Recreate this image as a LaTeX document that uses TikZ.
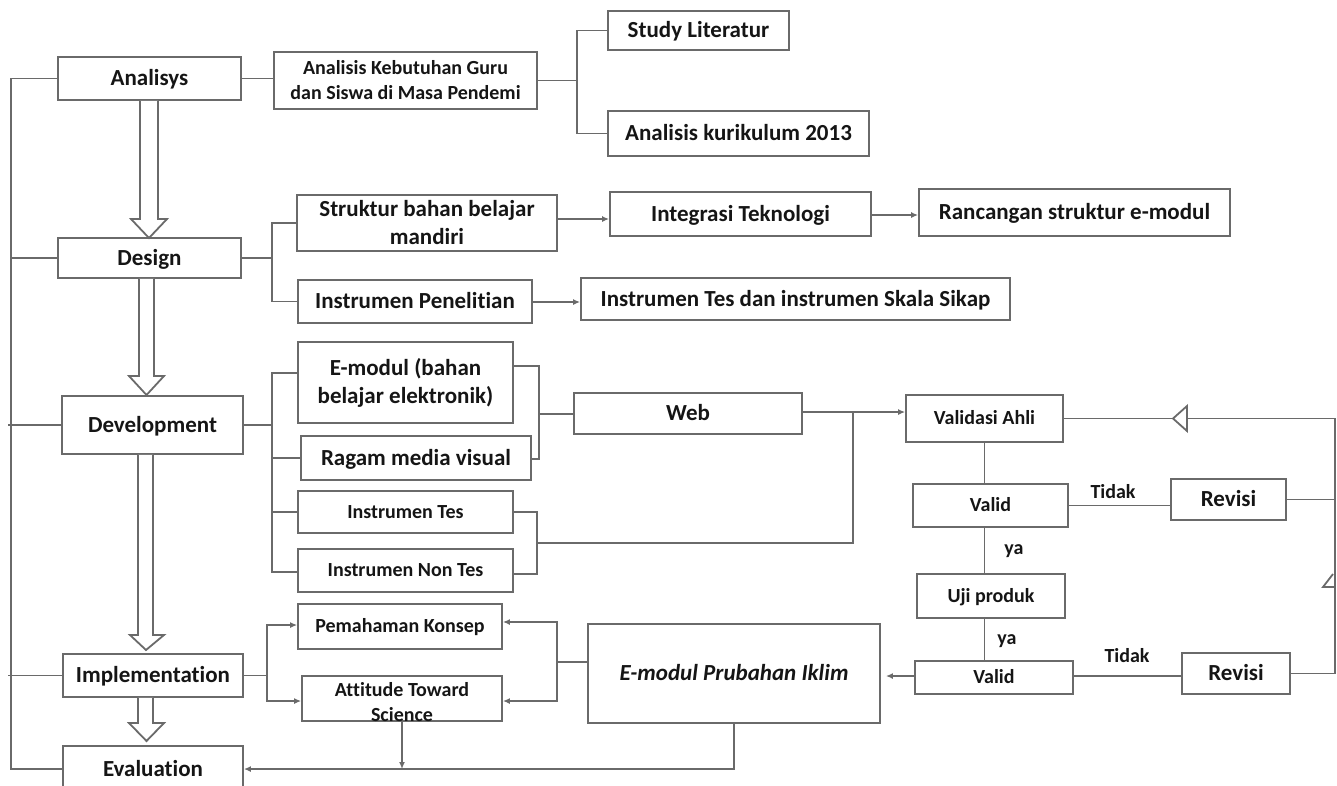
\documentclass[tikz,border=0pt]{standalone}
\usepackage{fontspec}
\setmainfont{Carlito}[Ligatures=NoCommon]
\usetikzlibrary{arrows.meta}
\definecolor{ln}{HTML}{6A6A6A}
\definecolor{txt}{HTML}{151515}
\begin{document}
\begin{tikzpicture}[x=1pt,y=-1pt,
  box/.style={draw=ln, line width=1.8pt, inner sep=0pt, align=center, font=\bfseries\fontsize{23}{28}\selectfont, text=txt, text height=14.8pt, text depth=0pt},
  sbox/.style={box, font=\bfseries\fontsize{20}{25}\selectfont, text height=12.9pt},
  ml/.style={text height=, text depth=},
  conn/.style={draw=ln, line width=1.8pt},
  arr/.style={conn, -{Latex[length=7pt,width=6pt]}},
  darr/.style={conn, {Latex[length=7pt,width=6pt]}-{Latex[length=7pt,width=6pt]}},
  lbl/.style={font=\bfseries\fontsize{20}{24}\selectfont, text=txt, inner sep=0pt},
  blk/.style={draw=ln, line width=1.8pt, fill=white, line join=miter}
]
\useasboundingbox (0,0) rectangle (1337,785);
\clip (0,0) rectangle (1337,785);

% left column
\node[box, minimum width=183pt, minimum height=43pt] (ana) at (149.5,78.5) {Analisys};
\node[box, minimum width=183pt, minimum height=40pt] (des) at (149.5,258) {Design};
\node[box, minimum width=181pt, minimum height=58pt] (dev) at (152.5,425) {Development};
\node[box, minimum width=180pt, minimum height=43pt] (imp) at (153,675.5) {Implementation};
\node[box, minimum width=180pt, minimum height=46pt] (eva) at (153,769) {Evaluation};

% analysis branch
\node[sbox, ml, minimum width=263pt, minimum height=57pt] (akg) at (405.5,80.5) {Analisis Kebutuhan Guru\\dan Siswa di Masa Pendemi};
\node[box, minimum width=181pt, minimum height=39pt] (sl) at (698.5,30.5) {Study Literatur};
\node[box, minimum width=261pt, minimum height=45pt] (ak) at (738.5,133.5) {Analisis kurikulum 2013};

% design branch
\node[box, ml, minimum width=260pt, minimum height=56pt] (sbb) at (427,223) {Struktur bahan belajar\\mandiri};
\node[box, minimum width=234pt, minimum height=43pt] (ip) at (415,301.5) {Instrumen Penelitian};
\node[box, minimum width=261pt, minimum height=44pt] (it) at (740.5,214) {Integrasi Teknologi};
\node[box, minimum width=311pt, minimum height=47pt] (rse) at (1074.5,212.5) {Rancangan struktur e-modul};
\node[box, minimum width=429pt, minimum height=42pt] (itd) at (795.5,299) {Instrumen Tes dan instrumen Skala Sikap};

% development branch
\node[box, ml, minimum width=215pt, minimum height=81pt] (em) at (405.5,382.5) {E-modul (bahan\\belajar elektronik)};
\node[box, minimum width=230pt, minimum height=44pt] (rmv) at (416,458) {Ragam media visual};
\node[sbox, minimum width=215pt, minimum height=42pt] (ites) at (405.5,512) {Instrumen Tes};
\node[sbox, minimum width=215pt, minimum height=43pt] (intes) at (405.5,570.5) {Instrumen Non Tes};
\node[box, minimum width=228pt, minimum height=41pt] (web) at (688,413.5) {Web};

% implementation branch
\node[sbox, minimum width=204pt, minimum height=45pt] (pk) at (400,626.5) {Pemahaman Konsep};
\node[sbox, minimum width=200pt, minimum height=45pt] (ats) at (402,698.5) {};
\node[lbl, align=center, font=\bfseries\fontsize{20}{25}\selectfont] (atst) at (402,702) {Attitude Toward\\Science};
\node[box, minimum width=292pt, minimum height=99pt, font=\bfseries\itshape\fontsize{23}{28}\selectfont] (epi) at (734,673.5) {E-modul Prubahan Iklim};

% validation chain
\node[sbox, minimum width=157pt, minimum height=47pt] (va) at (984.5,418.5) {Validasi Ahli};
\node[sbox, minimum width=155pt, minimum height=43pt] (v1) at (990.5,505.5) {Valid};
\node[box, minimum width=115pt, minimum height=41pt] (r1) at (1228.5,499.5) {Revisi};
\node[sbox, minimum width=148pt, minimum height=44pt] (up) at (991,596) {Uji produk};
\node[sbox, minimum width=158pt, minimum height=33pt] (v2) at (994,677.5) {Valid};
\node[box, minimum width=108pt, minimum height=41pt] (r2) at (1236,673.5) {Revisi};

\node[lbl] (t1) at (1113,492) {Tidak};
\node[lbl] (y1) at (1014,551) {ya};
\node[lbl] (y2) at (1007,641) {ya};
\node[lbl] (t2) at (1127,656) {Tidak};

% left spine
\coordinate (sp) at (11,0);
\coordinate (spl) at (8,0);
\draw[conn] (ana.west) -- (ana.west -| sp) -- (eva.west -| sp) -- (eva.west);
\draw[conn] (des.west) -- (des.west -| sp);
\draw[conn] (dev.west) -- (dev.west -| spl);
\draw[conn] (imp.west) -- (imp.west -| spl);

% block arrows
\draw[blk] (ana.south -| 140,0) -- (140,219) -- (131,219) -- (149,238) -- (167,219) -- (158,219) -- (ana.south -| 158,0);
\draw[blk] (des.south -| 139,0) -- (139,376) -- (129,376) -- (146.5,395) -- (164,376) -- (154,376) -- (des.south -| 154,0);
\draw[blk] (dev.south -| 138,0) -- (138,635) -- (130,635) -- (146,650) -- (164,635) -- (153,635) -- (dev.south -| 153,0);
\draw[blk] (imp.south -| 138,0) -- (138,723) -- (129,723) -- (146.5,741) -- (164,723) -- (153,723) -- (imp.south -| 153,0);

% analysis connectors
\coordinate (b1) at (577,80);
\draw[conn] (ana.east) -- (ana.east -| akg.west);
\draw[conn] (akg.east) -- (akg.east -| b1);
\draw[conn] (sl.west) -| (b1) |- (ak.west);

% design connectors
\coordinate (b2) at (272,258);
\draw[conn] (des.east) -- (b2);
\draw[conn] (sbb.west) -| (b2) |- (ip.west);
\draw[arr] (sbb.east |- 0,219) -- (it.west |- 0,219);
\draw[arr] (it.east |- 0,215) -- (rse.west |- 0,215);
\draw[arr] (ip.east |- 0,302) -- (itd.west |- 0,302);

% development connectors
\coordinate (b3) at (272,425);
\draw[conn] (dev.east) -- (b3);
\draw[conn] (em.west |- 0,373) -- (272,373) -- (272,572) -- (intes.west |- 0,572);
\draw[conn] (rmv.west) -- (rmv.west -| b3);
\draw[conn] (ites.west) -- (ites.west -| b3);
\draw[conn] (em.east |- 0,366) -- (539,366) -- (539,459) -- (rmv.east |- 0,459);
\draw[conn] (539,414) -- (web.west |- 0,414);
\draw[conn] (ites.east) -- (537,512) -- (537,574) -- (intes.east |- 0,574);
\draw[conn] (537,543) -- (853,543) -- (853,412);
\draw[arr] (web.east |- 0,412) -- (va.west |- 0,412);

% validation connectors
\draw[conn] (va.south) -- (va.south |- v1.north);
\draw[conn] (va.south |- v1.south) -- (va.south |- up.north);
\draw[conn] (va.south |- up.south) -- (va.south |- v2.north);
\draw[conn] (v1.east) -- (v1.east -| r1.west);
\draw[conn] (v2.east |- 0,676) -- (r2.west |- 0,676);
\coordinate (rs) at (1335,0);
\draw[conn] (va.east) -- (va.east -| rs) -- (r2.east -| rs) -- (r2.east);
\draw[conn] (r1.east) -- (r1.east -| rs);
\draw[blk] (1173,418.5) -- (1187,406) -- (1187,431) -- cycle;
\draw[conn, line join=miter] (1335,587) -- (1323,587) -- (1333,574);
\draw[arr, shorten >=5pt] (v2.west |- 0,676) -- (epi.east |- 0,676);

% implementation connectors
\draw[conn] (imp.east) -- (imp.east -| 267,0);
\draw[darr] (pk.west |- 0,625) -- (267,625) -- (267,701) -- (ats.west |- 0,701);
\draw[conn] (epi.west |- 0,662) -- (557,662);
\draw[darr] (pk.east |- 0,622) -- (557,622) -- (557,701) -- (ats.east |- 0,701);
\draw[arr] (epi.south) |- (eva.east);
\draw[arr] (ats.south) -- (ats.south |- eva.east);
\end{tikzpicture}
\end{document}
